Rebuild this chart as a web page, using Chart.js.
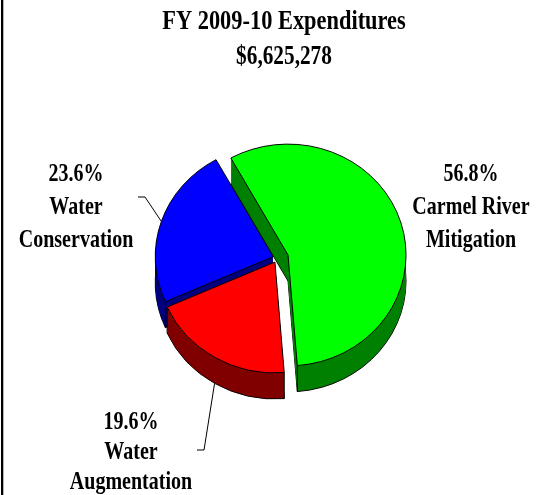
<!DOCTYPE html>
<html>
<head>
<meta charset="utf-8">
<script src="https://cdn.jsdelivr.net/npm/chart.js@4.4.0/dist/chart.umd.min.js"></script>
<style>
  html, body { margin: 0; padding: 0; background: #fff; }
  #wrap { width: 537px; height: 495px; position: relative; }
</style>
</head>
<body>
<div id="wrap"><canvas id="budget"></canvas></div>
<script>
const titleLines = ['FY 2009-10 Expenditures', '$6,625,278'];
const categories = [['Carmel River', 'Mitigation'], ['Water', 'Augmentation'], ['Water', 'Conservation']];
const shares = [56.8, 19.6, 23.6];

const topColors = ['#00ff00', '#ff0000', '#0000ff'];
const sideColors = ['#008000', '#800000', '#000080'];
const explode = [11, 5, 4.5];
const tilt = 0.94;
const depth = 26;

// where each label block sits (centre x, first baseline y, line step)
const labelSpots = [
  {x: 471, y: 181, step: 33},
  {x: 131, y: 429, step: 30},
  {x: 76, y: 181, step: 33}
];
// leader lines: elbow + end point, anchor on the slice edge
const leaders = [
  null,
  {elbow: [204, 450], end: [197, 450], bottom: true},
  {elbow: [145, 197], end: [138, 197], bottom: false}
];

// narrow bold serif, like the original export
function narrowText(ctx, text, x, y, size, squeeze) {
  ctx.save();
  ctx.translate(x, y);
  ctx.scale(squeeze, 1);
  ctx.font = 'bold ' + size + 'px "Liberation Serif"';
  ctx.textAlign = 'center';
  ctx.textBaseline = 'alphabetic';
  ctx.fillText(text, 0, 0);
  ctx.restore();
}

const pie3d = {
  id: 'pie3d',
  beforeDatasetsDraw(chart) {
    const ctx = chart.ctx;
    const arcs = chart.getDatasetMeta(0).data;
    const cx = arcs[0].x, cy = arcs[0].y;
    ctx.save();
    ctx.translate(cx, cy);
    ctx.scale(1, tilt);
    ctx.translate(-cx, -cy);

    // side walls: stack of darker copies, bottom one outlined
    for (let d = depth; d >= 1; d--) {
      arcs.forEach((arc, i) => {
        const mid = (arc.startAngle + arc.endAngle) / 2;
        const opts = arc.options;
        arc.options = Object.assign({}, opts, {
          backgroundColor: sideColors[i],
          borderColor: '#000',
          borderWidth: d === depth ? 1 : 0
        });
        ctx.save();
        ctx.translate(Math.cos(mid) * explode[i], Math.sin(mid) * explode[i] + d / tilt);
        arc.draw(ctx);
        ctx.restore();
        arc.options = opts;
      });
    }

    // vertical edges at the front corners
    ctx.strokeStyle = '#000';
    ctx.lineWidth = 1;
    arcs.forEach((arc, i) => {
      const mid = (arc.startAngle + arc.endAngle) / 2;
      const ox = Math.cos(mid) * explode[i], oy = Math.sin(mid) * explode[i];
      [arc.startAngle, arc.endAngle].forEach(a => {
        if (Math.sin(a) <= 0) return;
        const px = arc.x + ox + Math.cos(a) * arc.outerRadius;
        const py = arc.y + oy + Math.sin(a) * arc.outerRadius;
        ctx.beginPath();
        ctx.moveTo(px, py);
        ctx.lineTo(px, py + depth / tilt);
        ctx.stroke();
      });
    });

    // top faces
    arcs.forEach((arc, i) => {
      const mid = (arc.startAngle + arc.endAngle) / 2;
      ctx.save();
      ctx.translate(Math.cos(mid) * explode[i], Math.sin(mid) * explode[i]);
      arc.draw(ctx);
      ctx.restore();
    });
    ctx.restore();
    return false;
  },
  afterDraw(chart) {
    const ctx = chart.ctx;
    const arcs = chart.getDatasetMeta(0).data;
    ctx.save();

    // frame line on the left
    ctx.fillStyle = '#000';
    ctx.fillRect(1, 0, 2.3, 495);

    // title
    narrowText(ctx, titleLines[0], 284, 29, 28, 0.8);
    narrowText(ctx, titleLines[1], 284, 64, 28, 0.76);

    // labels
    arcs.forEach((arc, i) => {
      const spot = labelSpots[i];
      const lines = [shares[i].toFixed(1) + '%'].concat(chart.data.labels[i]);
      lines.forEach((t, k) => narrowText(ctx, t, spot.x, spot.y + k * spot.step, 26, 0.77));

      const ld = leaders[i];
      if (!ld) return;
      const mid = (arc.startAngle + arc.endAngle) / 2;
      const r = arc.outerRadius + explode[i];
      const ax = arc.x + Math.cos(mid) * r;
      const ay = arc.y + Math.sin(mid) * r * tilt + (ld.bottom ? depth : 0);
      ctx.strokeStyle = '#000';
      ctx.lineWidth = 1;
      ctx.beginPath();
      ctx.moveTo(ax, ay);
      ctx.lineTo(ld.elbow[0], ld.elbow[1]);
      ctx.lineTo(ld.end[0], ld.end[1]);
      ctx.stroke();
    });
    ctx.restore();
  }
};

new Chart(document.getElementById('budget'), {
  type: 'pie',
  data: {
    labels: categories,
    datasets: [{
      data: shares,
      backgroundColor: topColors,
      borderColor: '#000',
      borderWidth: 1
    }]
  },
  options: {
    responsive: true,
    maintainAspectRatio: false,
    animation: false,
    rotation: -29,
    radius: 118,
    layout: { padding: { left: 20, right: 2, top: 30, bottom: 9 } },
    plugins: {
      legend: { display: false },
      tooltip: { enabled: false },
      title: { display: false }
    }
  },
  plugins: [pie3d]
});
</script>
</body>
</html>
